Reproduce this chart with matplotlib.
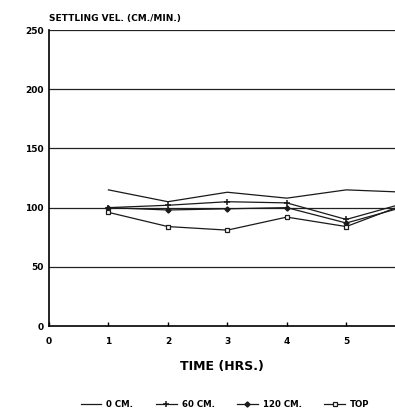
import matplotlib
matplotlib.use("Agg")
import matplotlib.pyplot as plt

hours = [1, 2, 3, 4, 5, 6]
cm0 = [115, 105, 113, 108, 115, 113]
cm60 = [100, 102, 105, 104, 90, 104]
cm120 = [100, 98, 99, 100, 87, 101]
top = [96, 84, 81, 92, 84, 103]
series_labels = ["0 CM.", "60 CM.", "120 CM.", "TOP"]
x_ticks = [0, 1, 2, 3, 4, 5]
y_ticks = [0, 50, 100, 150, 200, 250]

plt.rcParams['font.family'] = ['DejaVu Sans']
plt.rcParams['font.weight'] = 'bold'

fig = plt.figure(figsize=(3.95, 4.16), dpi=100)
ax = fig.add_axes([0.124, 0.2163, 0.876, 0.7115])

for yv in y_ticks[1:]:
    ax.axhline(yv, color='#222222', lw=0.9, zorder=1)

lw = 0.9
c = '#1a1a1a'
ax.plot(hours, cm0, color=c, lw=lw, label=series_labels[0])
ax.plot(hours, cm60, color=c, lw=lw, marker='+', ms=5, mew=1.1, label=series_labels[1])
ax.plot(hours, cm120, color=c, lw=lw, marker='D', ms=2.6, label=series_labels[2])
ax.plot(hours, top, color=c, lw=lw, marker='s', ms=3, mfc='white', mew=0.9, label=series_labels[3])

ax.set_xlim(0, 5.82)
ax.set_ylim(0, 250)
ax.set_xticks(x_ticks)
ax.set_yticks(y_ticks)
ax.set_xticklabels([str(v) for v in x_ticks], fontsize=6.5, fontweight='bold')
ax.set_yticklabels([str(v) for v in y_ticks], fontsize=6.5, fontweight='bold')
ax.tick_params(axis='x', direction='in', length=3, width=1, pad=8)
ax.tick_params(axis='y', length=0, pad=4)
for s in ['top', 'right']:
    ax.spines[s].set_visible(False)
for s in ['left', 'bottom']:
    ax.spines[s].set_linewidth(1.2)

ax.set_xlabel("TIME (HRS.)", fontsize=9, fontweight='bold', labelpad=10)
fig.text(0.124, 0.945, "SETTLING VEL. (CM./MIN.)", fontsize=6.5, fontweight='bold', ha='left', va='bottom')

handles, labels = ax.get_legend_handles_labels()
fig.legend(handles, labels, loc='center', bbox_to_anchor=(0.57, 0.027), ncol=4, frameon=False,
           handlelength=2.4, columnspacing=2.6, handletextpad=0.6,
           prop={'weight': 'bold', 'size': 6.2})

fig.savefig("out.png", dpi=100)
